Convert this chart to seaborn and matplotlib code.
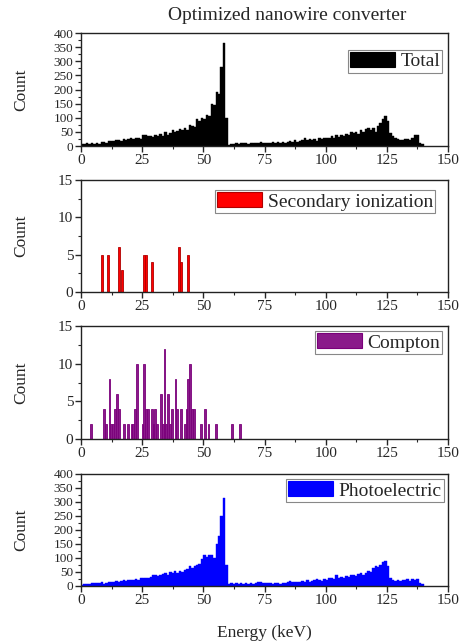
import numpy as np
import pandas as pd
import seaborn as sns
import matplotlib
matplotlib.use("Agg")
import matplotlib.pyplot as plt
from matplotlib.patches import Patch
from matplotlib.ticker import MultipleLocator

# ---------------- data ----------------
# 1 keV bins (left edges 0..139)
total_energy = list(range(0, 140))
total_counts = [
    8, 7, 9, 8, 10, 8, 9, 8, 15, 14,
    12, 18, 16, 17, 20, 22, 19, 25, 22, 24,
    28, 25, 30, 27, 24, 40, 38, 35, 36, 33,
    38, 35, 42, 36, 50, 40, 45, 55, 48, 52,
    60, 55, 65, 58, 75, 70, 68, 95, 90, 100,
    95, 110, 105, 150, 145, 190, 185, 280, 365, 100,
    5, 8, 7, 9, 8, 10, 9, 11, 8, 10,
    12, 9, 11, 13, 10, 12, 11, 9, 14, 12,
    15, 11, 13, 12, 14, 16, 13, 20, 15, 18,
    20, 28, 22, 25, 21, 26, 18, 30, 24, 27,
    30, 28, 35, 30, 38, 32, 40, 35, 42, 38,
    48, 45, 50, 44, 55, 50, 60, 62, 55, 65,
    50, 72, 80, 95, 105, 90, 45, 35, 28, 25,
    20, 22, 24, 26, 22, 30, 38, 40, 12, 8,
]

photo_energy = list(range(0, 140))
photo_counts = [
    4, 6, 8, 6, 10, 9, 12, 10, 14, 8,
    10, 15, 14, 16, 17, 15, 18, 20, 17, 22,
    20, 22, 25, 23, 28, 27, 30, 28, 32, 40,
    38, 35, 40, 42, 45, 40, 50, 45, 52, 48,
    55, 50, 58, 60, 70, 65, 72, 75, 80, 95,
    110, 105, 112, 110, 100, 150, 180, 250, 315, 75,
    6, 10, 8, 12, 7, 9, 8, 10, 7, 9,
    8, 12, 15, 14, 10, 9, 11, 10, 8, 9,
    10, 8, 12, 11, 15, 18, 14, 16, 13, 15,
    18, 15, 20, 14, 17, 22, 25, 20, 18, 24,
    22, 30, 28, 25, 38, 30, 32, 28, 35, 33,
    38, 40, 35, 42, 45, 40, 48, 55, 50, 65,
    70, 68, 75, 85, 90, 70, 30, 22, 18, 20,
    18, 22, 20, 24, 18, 25, 22, 26, 10, 6,
]

secondary_energy = [8.3, 10.8, 15.3, 17.1, 25.9, 26.6, 28.8, 40.3, 41.2, 43.8]
secondary_counts = [5, 5, 6, 3, 5, 5, 4, 6, 4, 5]

compton_energy = [4.4, 9.3, 10.0, 11.3, 12.1, 13.0, 14.0, 14.6, 15.4, 17.4,
                  19.2, 20.5, 21.3, 22.0, 22.8, 25.2, 25.9, 26.6, 27.4, 28.8,
                  29.5, 30.4, 31.2, 32.5, 33.1, 33.9, 34.6, 35.6, 36.3, 37.1,
                  38.7, 39.6, 40.8, 42.5, 43.1, 43.9, 44.6, 45.3, 46.1, 49.1,
                  50.9, 52.4, 54.8, 61.8, 64.9]
compton_counts = [2, 4, 2, 8, 2, 2, 4, 6, 4, 2,
                  2, 2, 2, 4, 10, 2, 10, 4, 4, 4,
                  2, 4, 2, 6, 2, 12, 2, 6, 2, 4,
                  8, 4, 4, 2, 4, 8, 10, 4, 4, 2,
                  4, 2, 2, 2, 2]

title_text = "Optimized nanowire converter"
x_label = "Energy (keV)"
y_label = "Count"

# ---------------- style ----------------
sns.set_style("ticks")
plt.rcParams["font.family"] = ["Liberation Serif", "DejaVu Serif"]
plt.rcParams["mathtext.fontset"] = "stix"

W, H = 459, 643
fig = plt.figure(figsize=(W / 100, H / 100), dpi=100)

left = 81 / W
width = (448 - 81) / W

def ax_rect(top_px, bot_px):
    return [left, 1 - bot_px / H, width, (bot_px - top_px) / H]

panels = [
    dict(rect=ax_rect(33, 146), x=total_energy, w=total_counts, bw=1.0, brange=(0, 140), shift=0.5,
         fc="black", ec="black", lw=0.3, label="Total", ymax=400, ymaj=50, ymin_=25, ysize=9.5,
         legend_anchor=(0.985, 0.85)),
    dict(rect=ax_rect(180, 292), x=secondary_energy, w=secondary_counts, bw=0.75, brange=(0, 150), shift=0.0,
         fc="#ff0000", ec="#b00000", lw=0.6, label="Secondary ionization", ymax=15, ymaj=5, ymin_=2.5, ysize=11,
         legend_anchor=(0.965, 0.91)),
    dict(rect=ax_rect(326, 439), x=compton_energy, w=compton_counts, bw=0.75, brange=(0, 150), shift=0.0,
         fc="#8a1a8a", ec="#7a007a", lw=0.6, label="Compton", ymax=15, ymaj=5, ymin_=2.5, ysize=11,
         legend_anchor=(0.985, 0.955)),
    dict(rect=ax_rect(474, 586), x=photo_energy, w=photo_counts, bw=1.0, brange=(0, 140), shift=0.5,
         fc="#0000ff", ec="#0000ff", lw=0.3, label="Photoelectric", ymax=400, ymaj=50, ymin_=25, ysize=9.5,
         legend_anchor=(0.99, 0.955)),
]

for i, p in enumerate(panels):
    ax = fig.add_axes(p["rect"])
    df = pd.DataFrame({"energy": np.asarray(p["x"], dtype=float) + p["shift"],
                       "count": np.asarray(p["w"], dtype=float)})
    sns.histplot(data=df, x="energy", weights="count", binwidth=p["bw"], binrange=p["brange"],
                 ax=ax, element="bars", fill=True, color=p["fc"], edgecolor=p["ec"],
                 linewidth=p["lw"], alpha=1.0)
    ax.set_xlim(0, 150)
    ax.set_ylim(0, p["ymax"])
    ax.xaxis.set_major_locator(MultipleLocator(25))
    ax.xaxis.set_minor_locator(MultipleLocator(12.5))
    ax.yaxis.set_major_locator(MultipleLocator(p["ymaj"]))
    ax.yaxis.set_minor_locator(MultipleLocator(p["ymin_"]))
    ax.tick_params(which="major", direction="out", length=4, width=1.0, pad=1.5,
                   top=False, right=False)
    ax.tick_params(axis="x", which="major", labelsize=11)
    ax.tick_params(axis="y", which="major", labelsize=p["ysize"])
    ax.tick_params(which="minor", direction="out", length=2.5, width=0.8, top=False, right=False)
    for s in ax.spines.values():
        s.set_linewidth(1.0)
        s.set_color("#222222")
    ax.set_xlabel("")
    ax.set_ylabel(y_label, fontsize=12.5)
    ax.yaxis.set_label_coords(-0.14, 0.5)
    handle = Patch(facecolor=p["fc"], edgecolor=p["ec"], linewidth=0.8)
    leg = ax.legend([handle], [p["label"]], loc="upper right", bbox_to_anchor=p["legend_anchor"],
                    fontsize=14, frameon=True, fancybox=False, framealpha=1,
                    handlelength=2.3, handleheight=0.8, handletextpad=0.3,
                    borderpad=0.12, borderaxespad=0.0)
    leg.get_frame().set_edgecolor("#888888")
    leg.get_frame().set_linewidth(0.8)
    if i == len(panels) - 1:
        ax.set_xlabel(x_label, fontsize=12.5, labelpad=13)

fig.text(287 / W, 1 - 16 / H, title_text, ha="center", va="center", fontsize=14)

fig.savefig("out.png", dpi=100)
